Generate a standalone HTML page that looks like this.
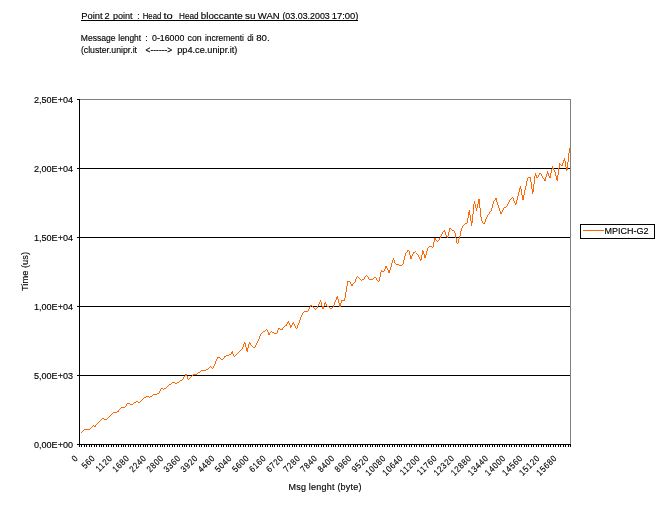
<!DOCTYPE html>
<html><head><meta charset="utf-8"><title>Point 2 point</title>
<style>
html,body{margin:0;padding:0;background:#fff;}
body{width:658px;height:513px;overflow:hidden;position:relative;font-family:"Liberation Sans",Arial,sans-serif;}
svg{position:absolute;left:0;top:0;display:block}
svg text{font-family:"Liberation Sans",Arial,sans-serif;font-size:9.5px;fill:#000;stroke:#000;stroke-width:0.14px;}
</style></head><body>
<svg width="658" height="513" viewBox="0 0 658 513">
<rect width="658" height="513" fill="#fff"/>
<text y="19"><tspan x="81.3" textLength="21.4" lengthAdjust="spacingAndGlyphs">Point</tspan> <tspan x="104.5" textLength="5.1" lengthAdjust="spacingAndGlyphs">2</tspan> <tspan x="112.9" textLength="19.6" lengthAdjust="spacingAndGlyphs">point</tspan> <tspan x="137.2" textLength="2.2" lengthAdjust="spacingAndGlyphs">:</tspan> <tspan x="142.7" textLength="18.6" lengthAdjust="spacingAndGlyphs">Head</tspan> <tspan x="163.5" textLength="9.3" lengthAdjust="spacingAndGlyphs">to</tspan> <tspan x="179.0" textLength="19.6" lengthAdjust="spacingAndGlyphs">Head</tspan> <tspan x="200.8" textLength="41.9" lengthAdjust="spacingAndGlyphs">bloccante</tspan> <tspan x="245.1" textLength="10.5" lengthAdjust="spacingAndGlyphs">su</tspan> <tspan x="257.8" textLength="21.9" lengthAdjust="spacingAndGlyphs">WAN</tspan> <tspan x="282.4" textLength="47.4" lengthAdjust="spacingAndGlyphs">(03.03.2003</tspan> <tspan x="331.7" textLength="26.8" lengthAdjust="spacingAndGlyphs">17:00)</tspan></text>
<path d="M81,20.5H358" stroke="#000" stroke-width="1" shape-rendering="crispEdges"/>
<text y="41"><tspan x="80.8" textLength="34.8" lengthAdjust="spacingAndGlyphs">Message</tspan> <tspan x="118.3" textLength="22.8" lengthAdjust="spacingAndGlyphs">lenght</tspan> <tspan x="145.2" textLength="2.4" lengthAdjust="spacingAndGlyphs">:</tspan> <tspan x="152.0" textLength="32.3" lengthAdjust="spacingAndGlyphs">0-16000</tspan> <tspan x="187.6" textLength="14.1" lengthAdjust="spacingAndGlyphs">con</tspan> <tspan x="204.9" textLength="39.0" lengthAdjust="spacingAndGlyphs">incrementi</tspan> <tspan x="247.2" textLength="6.5" lengthAdjust="spacingAndGlyphs">di</tspan> <tspan x="256.2" textLength="13.4" lengthAdjust="spacingAndGlyphs">80.</tspan></text>
<text y="53"><tspan x="80.9" textLength="56.1" lengthAdjust="spacingAndGlyphs">(cluster.unipr.it</tspan> <tspan x="145.6" textLength="26.6" lengthAdjust="spacingAndGlyphs">&lt;------&gt;</tspan> <tspan x="177.2" textLength="60.2" lengthAdjust="spacingAndGlyphs">pp4.ce.unipr.it)</tspan></text>
<g shape-rendering="crispEdges" fill="none" stroke-width="1">
<path d="M79,168.5H570M79,237.5H570M79,306.5H570M79,375.5H570" stroke="#000"/>
<path d="M79,99.5H570.5V444" stroke="#808080"/>
<path d="M79.5,99V445M77,444.5H570.5" stroke="#000"/>
<path d="M77,99.5H80M77,168.5H80M77,237.5H80M77,306.5H80M77,375.5H80M77,444.5H80" stroke="#000"/>
<path d="M79.5,444.5V447M81.5,444.5V447M84.5,444.5V447M86.5,444.5V447M89.5,444.5V447M91.5,444.5V447M94.5,444.5V447M96.5,444.5V447M99.5,444.5V447M101.5,444.5V447M103.5,444.5V447M106.5,444.5V447M108.5,444.5V447M111.5,444.5V447M113.5,444.5V447M116.5,444.5V447M118.5,444.5V447M121.5,444.5V447M123.5,444.5V447M125.5,444.5V447M128.5,444.5V447M130.5,444.5V447M133.5,444.5V447M135.5,444.5V447M138.5,444.5V447M140.5,444.5V447M143.5,444.5V447M145.5,444.5V447M147.5,444.5V447M150.5,444.5V447M152.5,444.5V447M155.5,444.5V447M157.5,444.5V447M160.5,444.5V447M162.5,444.5V447M164.5,444.5V447M167.5,444.5V447M169.5,444.5V447M172.5,444.5V447M174.5,444.5V447M177.5,444.5V447M179.5,444.5V447M182.5,444.5V447M184.5,444.5V447M186.5,444.5V447M189.5,444.5V447M191.5,444.5V447M194.5,444.5V447M196.5,444.5V447M199.5,444.5V447M201.5,444.5V447M204.5,444.5V447M206.5,444.5V447M208.5,444.5V447M211.5,444.5V447M213.5,444.5V447M216.5,444.5V447M218.5,444.5V447M221.5,444.5V447M223.5,444.5V447M226.5,444.5V447M228.5,444.5V447M230.5,444.5V447M233.5,444.5V447M235.5,444.5V447M238.5,444.5V447M240.5,444.5V447M243.5,444.5V447M245.5,444.5V447M248.5,444.5V447M250.5,444.5V447M252.5,444.5V447M255.5,444.5V447M257.5,444.5V447M260.5,444.5V447M262.5,444.5V447M265.5,444.5V447M267.5,444.5V447M270.5,444.5V447M272.5,444.5V447M274.5,444.5V447M277.5,444.5V447M279.5,444.5V447M282.5,444.5V447M284.5,444.5V447M287.5,444.5V447M289.5,444.5V447M292.5,444.5V447M294.5,444.5V447M296.5,444.5V447M299.5,444.5V447M301.5,444.5V447M304.5,444.5V447M306.5,444.5V447M309.5,444.5V447M311.5,444.5V447M314.5,444.5V447M316.5,444.5V447M318.5,444.5V447M321.5,444.5V447M323.5,444.5V447M326.5,444.5V447M328.5,444.5V447M331.5,444.5V447M333.5,444.5V447M335.5,444.5V447M338.5,444.5V447M340.5,444.5V447M343.5,444.5V447M345.5,444.5V447M348.5,444.5V447M350.5,444.5V447M353.5,444.5V447M355.5,444.5V447M357.5,444.5V447M360.5,444.5V447M362.5,444.5V447M365.5,444.5V447M367.5,444.5V447M370.5,444.5V447M372.5,444.5V447M375.5,444.5V447M377.5,444.5V447M379.5,444.5V447M382.5,444.5V447M384.5,444.5V447M387.5,444.5V447M389.5,444.5V447M392.5,444.5V447M394.5,444.5V447M397.5,444.5V447M399.5,444.5V447M401.5,444.5V447M404.5,444.5V447M406.5,444.5V447M409.5,444.5V447M411.5,444.5V447M414.5,444.5V447M416.5,444.5V447M419.5,444.5V447M421.5,444.5V447M423.5,444.5V447M426.5,444.5V447M428.5,444.5V447M431.5,444.5V447M433.5,444.5V447M436.5,444.5V447M438.5,444.5V447M441.5,444.5V447M443.5,444.5V447M445.5,444.5V447M448.5,444.5V447M450.5,444.5V447M453.5,444.5V447M455.5,444.5V447M458.5,444.5V447M460.5,444.5V447M463.5,444.5V447M465.5,444.5V447M467.5,444.5V447M470.5,444.5V447M472.5,444.5V447M475.5,444.5V447M477.5,444.5V447M480.5,444.5V447M482.5,444.5V447M485.5,444.5V447M487.5,444.5V447M489.5,444.5V447M492.5,444.5V447M494.5,444.5V447M497.5,444.5V447M499.5,444.5V447M502.5,444.5V447M504.5,444.5V447M506.5,444.5V447M509.5,444.5V447M511.5,444.5V447M514.5,444.5V447M516.5,444.5V447M519.5,444.5V447M521.5,444.5V447M524.5,444.5V447M526.5,444.5V447M528.5,444.5V447M531.5,444.5V447M533.5,444.5V447M536.5,444.5V447M538.5,444.5V447M541.5,444.5V447M543.5,444.5V447M546.5,444.5V447M548.5,444.5V447M550.5,444.5V447M553.5,444.5V447M555.5,444.5V447M558.5,444.5V447M560.5,444.5V447M563.5,444.5V447M565.5,444.5V447M568.5,444.5V447M570.5,444.5V447" stroke="#000"/>
</g>
<polyline points="81.3,432.5 83.3,430.4 85.3,429.4 89.5,429.4 93.2,425.3 95.0,426.5 103.1,418.4 104.7,419.3 106.4,419.3 112.3,413.5 114.8,412.4 117.8,411.8 121.3,407.4 124.8,407.4 127.5,403.3 129.5,404.5 132.4,404.5 135.0,402.3 136.9,401.2 139.3,402.6 143.4,398.2 147.5,396.4 149.2,397.4 154.5,394.4 158.0,393.6 159.7,392.1 161.7,388.0 163.8,389.5 169.1,385.1 173.8,382.2 176.7,383.6 180.2,381.0 183.1,379.0 186.0,374.2 188.4,379.5 193.5,374.7 197.0,373.9 202.3,370.4 206.4,370.0 208.7,368.9 210.5,366.2 212.8,368.5 214.6,365.4 217.5,357.2 219.2,357.2 222.2,359.7 225.1,356.3 227.4,355.4 230.4,354.8 232.3,350.5 234.4,356.6 240.3,351.0 242.6,347.8 244.7,342.3 247.2,351.5 249.5,342.4 252.6,347.4 254.9,347.0 261.4,333.6 266.0,329.9 267.2,330.1 269.0,334.8 271.3,331.3 274.8,333.4 276.6,333.0 278.6,327.5 281.8,330.1 284.2,326.8 286.5,325.2 288.5,321.3 290.8,327.7 293.2,322.1 296.2,328.7 299.6,320.5 303.3,312.2 308.2,311.2 310.5,305.4 312.3,306.2 315.8,309.7 318.1,305.9 320.5,299.5 322.8,308.5 325.1,301.5 328.1,306.5 331.0,308.5 333.3,307.3 337.4,295.6 339.8,307.3 342.1,299.9 344.4,301.3 347.7,281.4 349.7,281.4 352.0,285.5 354.4,283.1 357.4,275.7 359.7,279.2 362.0,280.4 364.1,278.5 366.5,274.8 369.0,279.2 372.0,279.4 374.9,277.3 376.6,278.9 378.7,282.4 381.3,270.7 383.7,271.5 386.3,265.6 388.9,273.0 393.4,257.5 395.9,264.0 401.2,265.6 403.0,263.7 405.5,253.5 408.6,249.6 410.9,259.0 413.5,252.3 414.7,251.2 416.4,252.6 420.8,260.5 422.9,250.3 425.2,258.2 427.5,249.1 429.9,246.2 432.8,247.4 435.1,238.0 437.5,242.1 440.6,236.8 442.2,233.3 444.5,230.4 447.4,238.4 449.8,228.1 452.3,230.2 454.4,230.6 457.4,244.4 459.7,237.4 461.7,228.1 465.0,224.0 467.2,223.2 469.3,209.7 471.7,226.1 474.4,200.6 476.5,210.9 479.0,198.7 481.4,220.3 483.7,224.4 488.4,214.4 491.3,210.9 493.7,201.6 496.0,198.3 501.0,214.4 504.2,208.0 506.5,206.5 510.0,200.2 513.0,197.5 515.9,204.5 520.5,186.4 523.0,200.0 527.7,177.7 530.3,176.8 532.7,193.8 535.3,172.5 537.3,178.0 540.0,173.3 542.0,175.7 545.0,181.2 547.6,171.3 549.7,178.0 552.5,165.5 554.6,170.2 557.2,180.9 559.6,163.4 561.8,166.3 564.5,157.5 566.9,171.3 569.6,148.4" fill="none" stroke="#ff6600" stroke-width="0.99" stroke-linejoin="miter" shape-rendering="crispEdges"/>
<g>
<text x="73" y="103" text-anchor="end" textLength="39" lengthAdjust="spacingAndGlyphs">2,50E+04</text>
<text x="73" y="172" text-anchor="end" textLength="39" lengthAdjust="spacingAndGlyphs">2,00E+04</text>
<text x="73" y="241" text-anchor="end" textLength="39" lengthAdjust="spacingAndGlyphs">1,50E+04</text>
<text x="73" y="310" text-anchor="end" textLength="39" lengthAdjust="spacingAndGlyphs">1,00E+04</text>
<text x="73" y="379" text-anchor="end" textLength="39" lengthAdjust="spacingAndGlyphs">5,00E+03</text>
<text x="73" y="448" text-anchor="end" textLength="39" lengthAdjust="spacingAndGlyphs">0,00E+00</text>
</g>
<g>
<text transform="translate(76.6,456.5) rotate(-45) scale(0.86,1)" text-anchor="end" y="3" style="font-size:9px;letter-spacing:0.8px">0</text>
<text transform="translate(93.7,456.5) rotate(-45) scale(0.86,1)" text-anchor="end" y="3" style="font-size:9px;letter-spacing:0.8px">560</text>
<text transform="translate(110.8,456.5) rotate(-45) scale(0.86,1)" text-anchor="end" y="3" style="font-size:9px;letter-spacing:0.8px">1120</text>
<text transform="translate(127.9,456.5) rotate(-45) scale(0.86,1)" text-anchor="end" y="3" style="font-size:9px;letter-spacing:0.8px">1680</text>
<text transform="translate(145.0,456.5) rotate(-45) scale(0.86,1)" text-anchor="end" y="3" style="font-size:9px;letter-spacing:0.8px">2240</text>
<text transform="translate(162.1,456.5) rotate(-45) scale(0.86,1)" text-anchor="end" y="3" style="font-size:9px;letter-spacing:0.8px">2800</text>
<text transform="translate(179.2,456.5) rotate(-45) scale(0.86,1)" text-anchor="end" y="3" style="font-size:9px;letter-spacing:0.8px">3360</text>
<text transform="translate(196.3,456.5) rotate(-45) scale(0.86,1)" text-anchor="end" y="3" style="font-size:9px;letter-spacing:0.8px">3920</text>
<text transform="translate(213.4,456.5) rotate(-45) scale(0.86,1)" text-anchor="end" y="3" style="font-size:9px;letter-spacing:0.8px">4480</text>
<text transform="translate(230.5,456.5) rotate(-45) scale(0.86,1)" text-anchor="end" y="3" style="font-size:9px;letter-spacing:0.8px">5040</text>
<text transform="translate(247.6,456.5) rotate(-45) scale(0.86,1)" text-anchor="end" y="3" style="font-size:9px;letter-spacing:0.8px">5600</text>
<text transform="translate(264.7,456.5) rotate(-45) scale(0.86,1)" text-anchor="end" y="3" style="font-size:9px;letter-spacing:0.8px">6160</text>
<text transform="translate(281.8,456.5) rotate(-45) scale(0.86,1)" text-anchor="end" y="3" style="font-size:9px;letter-spacing:0.8px">6720</text>
<text transform="translate(298.9,456.5) rotate(-45) scale(0.86,1)" text-anchor="end" y="3" style="font-size:9px;letter-spacing:0.8px">7280</text>
<text transform="translate(316.0,456.5) rotate(-45) scale(0.86,1)" text-anchor="end" y="3" style="font-size:9px;letter-spacing:0.8px">7840</text>
<text transform="translate(333.1,456.5) rotate(-45) scale(0.86,1)" text-anchor="end" y="3" style="font-size:9px;letter-spacing:0.8px">8400</text>
<text transform="translate(350.2,456.5) rotate(-45) scale(0.86,1)" text-anchor="end" y="3" style="font-size:9px;letter-spacing:0.8px">8960</text>
<text transform="translate(367.3,456.5) rotate(-45) scale(0.86,1)" text-anchor="end" y="3" style="font-size:9px;letter-spacing:0.8px">9520</text>
<text transform="translate(384.4,456.5) rotate(-45) scale(0.86,1)" text-anchor="end" y="3" style="font-size:9px;letter-spacing:0.8px">10080</text>
<text transform="translate(401.5,456.5) rotate(-45) scale(0.86,1)" text-anchor="end" y="3" style="font-size:9px;letter-spacing:0.8px">10640</text>
<text transform="translate(418.6,456.5) rotate(-45) scale(0.86,1)" text-anchor="end" y="3" style="font-size:9px;letter-spacing:0.8px">11200</text>
<text transform="translate(435.7,456.5) rotate(-45) scale(0.86,1)" text-anchor="end" y="3" style="font-size:9px;letter-spacing:0.8px">11760</text>
<text transform="translate(452.8,456.5) rotate(-45) scale(0.86,1)" text-anchor="end" y="3" style="font-size:9px;letter-spacing:0.8px">12320</text>
<text transform="translate(469.9,456.5) rotate(-45) scale(0.86,1)" text-anchor="end" y="3" style="font-size:9px;letter-spacing:0.8px">12880</text>
<text transform="translate(487.0,456.5) rotate(-45) scale(0.86,1)" text-anchor="end" y="3" style="font-size:9px;letter-spacing:0.8px">13440</text>
<text transform="translate(504.1,456.5) rotate(-45) scale(0.86,1)" text-anchor="end" y="3" style="font-size:9px;letter-spacing:0.8px">14000</text>
<text transform="translate(521.2,456.5) rotate(-45) scale(0.86,1)" text-anchor="end" y="3" style="font-size:9px;letter-spacing:0.8px">14560</text>
<text transform="translate(538.3,456.5) rotate(-45) scale(0.86,1)" text-anchor="end" y="3" style="font-size:9px;letter-spacing:0.8px">15120</text>
<text transform="translate(555.4,456.5) rotate(-45) scale(0.86,1)" text-anchor="end" y="3" style="font-size:9px;letter-spacing:0.8px">15680</text>
</g>
<text transform="translate(27.7,271.5) rotate(-90)" style="font-size:9.5px" text-anchor="middle" textLength="39" lengthAdjust="spacingAndGlyphs">Time (us)</text>
<text x="288.5" y="490" textLength="73" lengthAdjust="spacing" style="font-size:9px">Msg lenght (byte)</text>
<rect x="580.5" y="224.5" width="74" height="14" fill="#fff" stroke="#000" stroke-width="1" shape-rendering="crispEdges"/>
<path d="M583,230.5H604" stroke="#ff6600" stroke-width="1" shape-rendering="crispEdges"/>
<text x="604.6" y="233.7" textLength="44" lengthAdjust="spacingAndGlyphs">MPICH-G2</text>
</svg>
</body></html>
